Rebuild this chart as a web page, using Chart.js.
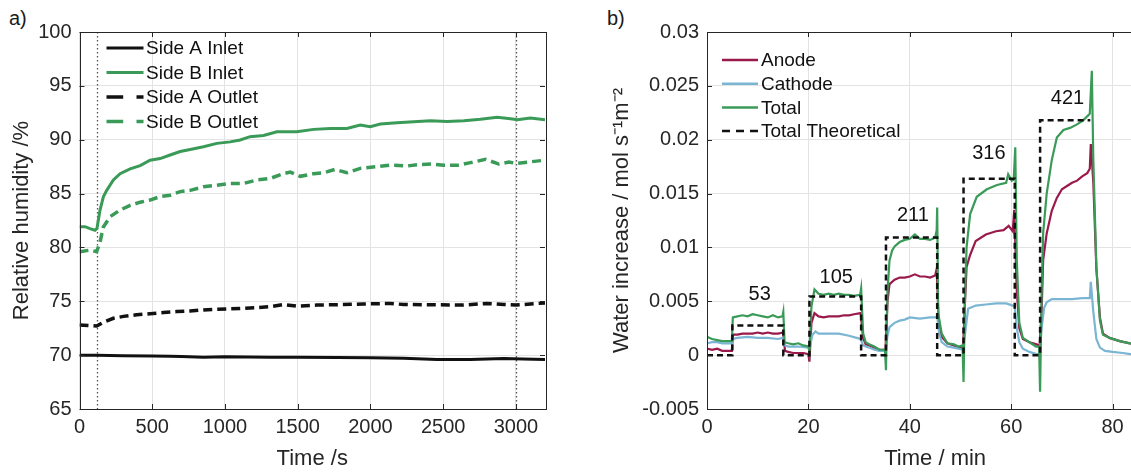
<!DOCTYPE html>
<html><head><meta charset="utf-8">
<script src="https://cdn.jsdelivr.net/npm/chart.js@4/dist/chart.umd.min.js"></script>
<style>
html,body{margin:0;padding:0;background:#fff;}
body{width:1131px;height:473px;overflow:hidden;position:relative;font-family:"Liberation Sans",Arial,sans-serif;}
canvas{position:absolute;top:0;}
.tag{position:absolute;font-size:20px;line-height:20px;color:#1a1a1a;}
</style></head>
<body>
<div class="tag" style="left:9px;top:8px">a)</div>
<div class="tag" style="left:607px;top:8px">b)</div>
<canvas id="cA" width="570" height="473" style="left:0"></canvas>
<canvas id="cB" width="600" height="473" style="left:580px"></canvas>
<script>
// ---------- Panel a) data ----------
const sideAInletT = [0, 120, 300, 500, 623, 700, 852, 1000, 1310, 1500, 1770, 2000, 2229, 2458, 2688, 2917, 3050, 3200];
const sideAInlet  = [70.0, 70.0, 69.95, 69.92, 69.9, 69.88, 69.8, 69.85, 69.8, 69.8, 69.78, 69.75, 69.7, 69.6, 69.6, 69.68, 69.65, 69.6];
const sideBInletT = [0, 38, 72, 107, 120, 141, 164, 187, 233, 279, 348, 417, 485, 554, 623, 692, 761, 852, 944, 1036, 1104, 1173, 1265, 1357, 1449, 1494, 1609, 1724, 1838, 1930, 1999, 2068, 2183, 2297, 2412, 2527, 2642, 2756, 2871, 2963, 3010, 3100, 3200];
const sideBInlet  = [81.92, 81.93, 81.75, 81.6, 81.75, 83.47, 84.7, 85.3, 86.26, 86.85, 87.3, 87.6, 88.1, 88.25, 88.58, 88.9, 89.1, 89.35, 89.66, 89.8, 89.97, 90.28, 90.4, 90.74, 90.74, 90.74, 90.96, 91.05, 91.05, 91.36, 91.2, 91.45, 91.58, 91.67, 91.76, 91.7, 91.76, 91.9, 92.08, 91.95, 91.85, 92.02, 91.85];
const sideAOutletT = [0, 60, 118, 164, 233, 302, 394, 485, 577, 669, 761, 852, 944, 1036, 1127, 1219, 1310, 1403, 1494, 1632, 1770, 1953, 2137, 2229, 2458, 2641, 2802, 2917, 3000, 3100, 3200];
const sideAOutlet  = [72.8, 72.75, 72.7, 73.05, 73.42, 73.6, 73.75, 73.85, 73.95, 74.05, 74.1, 74.2, 74.25, 74.3, 74.35, 74.4, 74.5, 74.7, 74.55, 74.65, 74.68, 74.75, 74.8, 74.7, 74.68, 74.65, 74.8, 74.7, 74.65, 74.75, 74.85];
const sideBOutletT = [0, 72, 118, 141, 164, 210, 279, 348, 417, 485, 554, 623, 692, 761, 852, 944, 1036, 1127, 1219, 1310, 1402, 1449, 1517, 1609, 1678, 1758, 1838, 1930, 2045, 2137, 2251, 2343, 2423, 2504, 2596, 2688, 2791, 2883, 2952, 3000, 3100, 3200];
const sideBOutlet  = [79.6, 79.75, 79.6, 80.5, 81.9, 82.85, 83.47, 83.9, 84.2, 84.4, 84.72, 84.85, 85.18, 85.3, 85.63, 85.78, 85.94, 85.94, 86.26, 86.4, 86.85, 87.0, 86.6, 86.85, 86.93, 87.25, 86.93, 87.34, 87.5, 87.65, 87.56, 87.7, 87.74, 87.62, 87.62, 87.87, 88.18, 87.74, 87.93, 87.8, 87.95, 88.1];
const markerTimes = [120, 3000];
const aXTicks = [0, 500, 1000, 1500, 2000, 2500, 3000];
const aYTicks = [65, 70, 75, 80, 85, 90, 95, 100];

// ---------- Panel b) data ----------
const anodeT = [0,1,2,3,4,4.9,5.1,6,7,8,9,10,11,12,13,14,15,15.4,16,17,18,19,20,20.2,20.6,21.2,22,23,24,25,26,27,28,29,30.3,30.8,31.3,32,33,34,35.2,35.6,36,37,38,39,40,41,42,43,44,45,45.3,45.7,46.3,47.4,48.7,49.6,50.5,50.8,51.2,51.9,53,55,57,58.5,59.5,60.3,60.6,61.1,61.6,62.3,63.6,65,65.6,66,66.3,67,68,69,70,71,72,73,74,75,75.5,75.7,76.2,76.8,77.5,78.1,79.4,81.4,83.4,86];
const anode  = [0.0006,0.0005,0.0006,0.0004,0.0004,0.0004,0.0019,0.0019,0.0020,0.0020,0.0020,0.0021,0.0020,0.0021,0.0020,0.0020,0.0021,0.0004,0.0003,0.0002,0.0002,0.0002,0.0001,-0.0006,0.0030,0.0039,0.0036,0.0035,0.0036,0.0036,0.0036,0.0037,0.0037,0.0038,0.0039,0.0016,0.0010,0.0009,0.0007,0.0005,0.0005,0.0050,0.0066,0.0070,0.0072,0.0072,0.0073,0.0075,0.0073,0.0073,0.0072,0.0074,0.0080,0.0030,0.0017,0.0011,0.0009,0.0007,0.0006,0.0040,0.0082,0.0093,0.0106,0.0112,0.0115,0.0116,0.0120,0.0115,0.0135,0.0060,0.0025,0.0015,0.0012,0.0010,0.0009,0.0040,0.0088,0.0113,0.0134,0.0146,0.0154,0.0157,0.0160,0.0162,0.0166,0.0169,0.0173,0.0196,0.0160,0.0080,0.0035,0.0020,0.0016,0.0013,0.0011,0.0010];
const cathodeT = [0,1,2,3,4,4.9,5.1,6,8,10,12,14,15,15.4,16,18,20,20.3,20.8,21.4,22,24,26,28,29.5,30.3,30.8,32,33,34,35.2,35.6,36,37,38,39,40,42,44,45,45.4,45.8,46.3,47.4,48.7,49.6,50.5,50.9,51.5,53,55,57,59,60.3,60.7,61.1,61.6,62.3,63.6,65,65.6,66,66.5,67,68,70,72,74,75.5,75.7,76.2,76.8,77.5,78.5,80,82,83.5,86];
const cathode  = [0.0011,0.0012,0.0012,0.0011,0.0011,0.0011,0.0015,0.0016,0.0017,0.0016,0.0016,0.0015,0.0016,0.0009,0.0008,0.0008,0.0007,0.0008,0.0019,0.0022,0.0020,0.0020,0.0020,0.0018,0.0016,0.0015,0.0009,0.0007,0.0005,0.0004,0.0004,0.0018,0.0026,0.0030,0.0032,0.0033,0.0035,0.0034,0.0035,0.0035,0.0036,0.0020,0.0012,0.0008,0.0007,0.0006,0.0005,0.0020,0.0043,0.0046,0.0047,0.0048,0.0048,0.0046,0.0045,0.0025,0.0012,0.0006,0.0003,0.0001,0.0001,0.0025,0.0044,0.0049,0.0052,0.0052,0.0052,0.0053,0.0053,0.0068,0.0040,0.0015,0.0007,0.0004,0.0003,0.0002,0.0001,-0.0001];
const totalT = [0,1,2,3,4,4.9,5.1,6,7,8,9,10,11,12,13,14,14.9,15.05,15.3,16,17,18,19,20,20.2,20.6,21.2,22,23,24,25,26,27,28,29,30.2,30.4,30.8,31.3,32,33,34,35.1,35.3,35.6,36,36.5,37,38,39,40,41,42,43,44,45,45.3,45.4,45.6,46.3,47.4,48.7,49.6,50.4,50.6,50.9,51.2,51.9,53.2,55.2,57.2,59,59.4,60.1,60.5,60.8,61.1,61.6,62.3,63.6,64.9,65.5,65.7,66,66.3,67,68,69,70.3,71.6,72.9,74.2,75.5,75.9,76.2,76.8,77.5,78.1,79.4,81.4,83.4,86];
const total  = [0.0017,0.0015,0.0014,0.0013,0.0013,0.0013,0.0035,0.0036,0.0037,0.0036,0.0038,0.0037,0.0036,0.0035,0.0037,0.0035,0.0036,0.0040,0.0012,0.0011,0.0010,0.0011,0.0009,0.0008,0.0003,0.0045,0.0061,0.0057,0.0056,0.0057,0.0056,0.0057,0.0056,0.0056,0.0055,0.0056,0.0062,0.0020,0.0012,0.0010,0.0008,0.0005,0.0005,-0.0014,0.0060,0.0088,0.0097,0.0101,0.0105,0.0107,0.0108,0.0112,0.0108,0.0108,0.0107,0.0109,0.0116,0.0137,0.0039,0.0020,0.0011,0.0010,0.0008,0.0009,-0.0025,0.0057,0.0100,0.0131,0.0147,0.0154,0.0158,0.0160,0.0168,0.0162,0.0163,0.0193,0.0088,0.0030,0.0016,0.0012,0.0008,0.0008,-0.0034,0.0058,0.0113,0.0150,0.0181,0.0202,0.0209,0.0211,0.0214,0.0218,0.0224,0.0264,0.0181,0.0082,0.0032,0.0019,0.0016,0.0013,0.0011,0.0010];
const theoT = [0,5.0,5.0,15.05,15.05,20.2,20.2,30.4,30.4,35.3,35.3,45.4,45.4,50.6,50.6,60.7,60.7,65.7,65.7,75.6];
const theo  = [0,0,0.00275,0.00275,0,0,0.00544,0.00544,0,0,0.01093,0.01093,0,0,0.01637,0.01637,0,0,0.0218,0.0218];
const stepLabels = ['53', '105', '211', '316', '421'];
const stepLabelT = [10.4, 25.5, 40.6, 55.6, 71.1];
const stepLabelV = [0.0056, 0.00725, 0.0130, 0.01868, 0.0238];
const bXTicks = [0, 20, 40, 60, 80];
const bYTicks = [-0.005, 0, 0.005, 0.01, 0.015, 0.02, 0.025, 0.03];

// ---------- styling ----------
const FONT = '"Liberation Sans", Arial, Helvetica, sans-serif';
const AXC = '#262626';
const GREEN = '#3a9a57';
const MAROON = '#9a1a4c';
const LBLUE = '#7ab5d3';

const pts = (t, v) => t.map((x, i) => ({x: x, y: v[i]}));

const framePlugin = {
  id: 'frame',
  beforeDatasetsDraw(chart, args, o) {
    const {ctx, chartArea: a, scales: {x}} = chart;
    ctx.save();
    ctx.strokeStyle = '#555'; ctx.lineWidth = 1.3; ctx.setLineDash([1.5, 2.5]);
    (o.markers || []).forEach(t => {
      const px = Math.round(x.getPixelForValue(t)) + 0.5;
      ctx.beginPath(); ctx.moveTo(px, a.top); ctx.lineTo(px, a.bottom); ctx.stroke();
    });
    ctx.restore();
  },
  afterDatasetsDraw(chart, args, o) {
    const {ctx, chartArea: a, scales: {x, y}} = chart;
    ctx.save();
    ctx.strokeStyle = AXC; ctx.lineWidth = 1; ctx.setLineDash([]);
    ctx.strokeRect(Math.round(a.left) + 0.5, Math.round(a.top) + 0.5, Math.round(a.right - a.left), Math.round(a.bottom - a.top));
    const L = 5;
    ctx.beginPath();
    x.ticks.forEach(t => {
      const px = Math.round(x.getPixelForValue(t.value)) + 0.5;
      ctx.moveTo(px, a.bottom); ctx.lineTo(px, a.bottom - L);
      ctx.moveTo(px, a.top); ctx.lineTo(px, a.top + L);
    });
    y.ticks.forEach(t => {
      const py = Math.round(y.getPixelForValue(t.value)) + 0.5;
      ctx.moveTo(a.left, py); ctx.lineTo(a.left + L, py);
      ctx.moveTo(a.right, py); ctx.lineTo(a.right - L, py);
    });
    ctx.stroke();
    const lg = o.legend;
    if (lg) {
      ctx.font = '19px ' + FONT; ctx.textBaseline = 'middle'; ctx.textAlign = 'left'; ctx.fillStyle = '#111';
      lg.items.forEach((it, i) => {
        const yy = a.top + lg.top + i * lg.gap;
        ctx.strokeStyle = it.color; ctx.lineWidth = it.width; ctx.setLineDash(it.dash || []);
        ctx.beginPath(); ctx.moveTo(a.left + lg.x0, yy); ctx.lineTo(a.left + lg.x1, yy); ctx.stroke();
        ctx.fillText(it.label, a.left + lg.tx, yy + 1);
      });
    }
    if (o.labels) {
      ctx.font = '20px ' + FONT; ctx.textAlign = 'center'; ctx.textBaseline = 'middle'; ctx.fillStyle = '#111';
      o.labels.text.forEach((s, i) => {
        ctx.fillText(s, x.getPixelForValue(o.labels.t[i]), y.getPixelForValue(o.labels.v[i]));
      });
    }
    ctx.restore();
  }
};

function axes(xMin, xMax, xTicks, xTitle, yMin, yMax, yTicks, yTitle, yWidth, yFmt) {
  const grid = {color: '#e3e3e3', lineWidth: 1, drawTicks: false};
  return {
    x: {
      type: 'linear', min: xMin, max: xMax,
      afterBuildTicks: s => { s.ticks = xTicks.map(v => ({value: v})); },
      afterFit: s => { s.height = 64; },
      grid: grid, border: {display: false},
      ticks: {color: AXC, font: {family: FONT, size: 20}, padding: 6, maxRotation: 0, autoSkip: false, callback: v => String(v)},
      title: {display: true, text: xTitle, color: AXC, font: {family: FONT, size: 22}, padding: {top: 0, bottom: 1}}
    },
    y: {
      type: 'linear', min: yMin, max: yMax,
      afterBuildTicks: s => { s.ticks = yTicks.map(v => ({value: v})); },
      afterFit: s => { s.width = yWidth; },
      grid: grid, border: {display: false},
      ticks: {color: AXC, font: {family: FONT, size: 20}, padding: 8, autoSkip: false, callback: yFmt},
      title: {display: true, text: yTitle, color: AXC, font: {family: FONT, size: 22}, padding: {top: 9, bottom: 0}}
    }
  };
}

const lineDs = (label, data, color, width, dash, order) => ({
  label, data, borderColor: color, backgroundColor: color, borderWidth: width,
  borderDash: dash || [], pointRadius: 0, tension: 0, fill: false, order: order
});

new Chart(document.getElementById('cA'), {
  type: 'line',
  data: {datasets: [
    lineDs('Side A Inlet', pts(sideAInletT, sideAInlet), '#111', 3, null, 3),
    lineDs('Side B Inlet', pts(sideBInletT, sideBInlet), GREEN, 3, null, 2),
    lineDs('Side A Outlet', pts(sideAOutletT, sideAOutlet), '#111', 3.5, [9, 5], 1),
    lineDs('Side B Outlet', pts(sideBOutletT, sideBOutlet), GREEN, 3.5, [9, 5], 0)
  ]},
  options: {
    responsive: false, animation: false, devicePixelRatio: 1,
    layout: {padding: {left: 0, top: 32, right: 25, bottom: 0}},
    scales: axes(0, 3200, aXTicks, 'Time /s', 65, 100, aYTicks, 'Relative humidity /%', 79.5, v => String(v)),
    plugins: {
      legend: {display: false}, tooltip: {enabled: false},
      frame: {
        markers: markerTimes,
        legend: {x0: 27, x1: 64, tx: 66.5, top: 16, gap: 24.5, items: [
          {label: 'Side A Inlet', color: '#111', width: 3},
          {label: 'Side B Inlet', color: GREEN, width: 3},
          {label: 'Side A Outlet', color: '#111', width: 3.5, dash: [16.7, 13.3]},
          {label: 'Side B Outlet', color: GREEN, width: 3.5, dash: [16.7, 13.3]}
        ]}
      }
    }
  },
  plugins: [framePlugin]
});

new Chart(document.getElementById('cB'), {
  type: 'line',
  data: {datasets: [
    lineDs('Anode', pts(anodeT, anode), MAROON, 2.2, null, 3),
    lineDs('Cathode', pts(cathodeT, cathode), LBLUE, 2.2, null, 2),
    lineDs('Total', pts(totalT, total), GREEN, 2.2, null, 1),
    lineDs('Total Theoretical', pts(theoT, theo), '#111', 2.5, [6, 4], 0)
  ]},
  options: {
    responsive: false, animation: false, devicePixelRatio: 1,
    layout: {padding: {left: 20, top: 32, right: 16.7, bottom: 0}},
    scales: axes(0, 90, bXTicks, 'Time / min', -0.005, 0.03, bYTicks, 'Water increase / mol s\u207B\u00B9m\u207B\u00B2', 107, v => String(parseFloat(Number(v).toFixed(3)))),
    plugins: {
      legend: {display: false}, tooltip: {enabled: false},
      frame: {
        legend: {x0: 15, x1: 51, tx: 54, top: 28, gap: 23.7, items: [
          {label: 'Anode', color: MAROON, width: 2.5},
          {label: 'Cathode', color: LBLUE, width: 2.5},
          {label: 'Total', color: GREEN, width: 2.5},
          {label: 'Total Theoretical', color: '#111', width: 2.5, dash: [8, 6]}
        ]},
        labels: {text: stepLabels, t: stepLabelT, v: stepLabelV}
      }
    }
  },
  plugins: [framePlugin]
});
</script>
</body></html>
